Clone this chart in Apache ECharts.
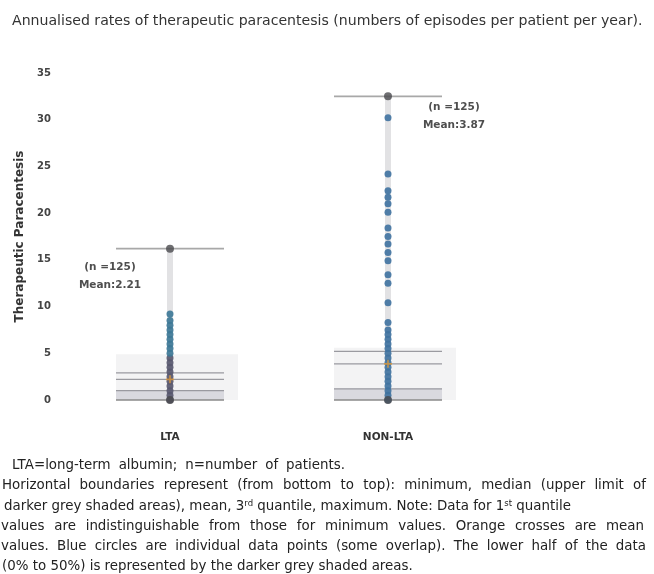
<!DOCTYPE html>
<html>
<head>
<meta charset="utf-8">
<script src="https://cdn.jsdelivr.net/npm/echarts@6/dist/echarts.min.js"></script>
<style>
  html, body { margin: 0; padding: 0; background: #fff; }
  #chart { width: 654px; height: 574px; }
</style>
</head>
<body>
<div id="chart"></div>
<script>
// groups
const groups = ["LTA", "NON-LTA"];

// summary stats per group
const minVals = [0, 0];
const medianVals = [1.0, 1.2];
const meanVals = [2.21, 3.87];
const q3Vals = [2.9, 5.2];
const maxVals = [16.2, 32.5];
const shadeTop = [4.9, 5.6];
const nLabels = ["(n =125)", "(n =125)"];
const labelAt = [13.2, 30.4];

// individual data points (some overlap)
const ltaPoints = [0, 0.5, 1, 1.5, 2, 2.5, 3, 3.5, 4, 4.5, 5, 5.5, 6, 6.5, 7, 7.5, 8, 8.5, 9.2];
const nonLtaPoints = [0, 0.5, 1, 1.5, 2, 2.5, 3, 3.5, 4, 4.5, 5, 5.5, 6, 6.5, 7, 7.5, 8.3,
  10.4, 12.5, 13.4, 14.9, 15.8, 16.7, 17.5, 18.4, 20.1, 21.0, 21.7, 22.4, 24.2, 30.2];

const titleText = "Annualised rates of therapeutic paracentesis (numbers of episodes per patient per year).";
// footnote lines; justifyTo = right edge for justified lines (0 = natural)
const footLines = [
  "LTA=long-term albumin; n=number of patients.",
  "Horizontal boundaries represent (from bottom to top): minimum, median (upper limit of",
  "darker grey shaded areas), mean, 3{sup|rd} quantile, maximum. Note: Data for 1{sup|st} quantile",
  "values are indistinguishable from those for minimum values. Orange crosses are mean",
  "values. Blue circles are individual data points (some overlap). The lower half of the data",
  "(0% to 50%) is represented by the darker grey shaded areas."
];
const footLeft = [12, 2, 4, 1, 1, 2];
const justifyTo = [345, 646, 0, 644, 646, 0];

const FONT = "'DejaVu Sans', Verdana, sans-serif";
const FOOT_SIZE = 13.4;

const chart = echarts.init(document.getElementById("chart"));

// build data for series
const pointData = [];
ltaPoints.forEach(v => pointData.push([0, v]));
nonLtaPoints.forEach(v => pointData.push([1, v]));

const statLines = [];
groups.forEach((g, i) => {
  statLines.push([i, minVals[i], 0]);
  statLines.push([i, medianVals[i], 1]);
  statLines.push([i, meanVals[i], 1]);
  statLines.push([i, q3Vals[i], 1]);
  statLines.push([i, maxVals[i], 2]);
});

const bands = [];
groups.forEach((g, i) => {
  bands.push([i, minVals[i], shadeTop[i], 0]);
  bands.push([i, minVals[i], medianVals[i], 1]);
});

const extremes = [];
groups.forEach((g, i) => {
  extremes.push([i, minVals[i]]);
  extremes.push([i, maxVals[i]]);
});

const halfW = 54;

// measure words so the justified footnote lines can be spread like the original
const measureCtx = document.createElement("canvas").getContext("2d");
measureCtx.font = FOOT_SIZE + "px " + FONT;

const supRich = { sup: { fontFamily: FONT, fontSize: 8.5, verticalAlign: "top", padding: [0, 0, 5, 0], fill: "#222" } };
const footGraphics = [];
footLines.forEach((t, k) => {
  const top = 459 + k * 20.2;
  if (!justifyTo[k]) {
    footGraphics.push({
      type: "text", left: footLeft[k], top: top,
      style: { text: t, fontFamily: FONT, fontSize: FOOT_SIZE, fill: "#222", rich: supRich }
    });
    return;
  }
  const words = t.split(" ");
  const widths = words.map(w => measureCtx.measureText(w).width);
  const total = widths.reduce((a, b) => a + b, 0);
  const gap = (justifyTo[k] - footLeft[k] - total) / (words.length - 1);
  let x = footLeft[k];
  words.forEach((w, j) => {
    footGraphics.push({
      type: "text", x: x, y: top,
      style: { text: w, fontFamily: FONT, fontSize: FOOT_SIZE, fill: "#222" }
    });
    x += widths[j] + gap;
  });
});

const option = {
  backgroundColor: "#fff",
  animation: false,
  graphic: [
    {
      type: "text",
      left: 12,
      top: 14,
      style: { text: titleText, fontFamily: FONT, fontSize: 14.1, fill: "#333" }
    }
  ].concat(footGraphics),
  grid: { left: 61, right: 157, top: 73, bottom: 174 },
  xAxis: {
    type: "category",
    data: groups,
    axisLine: { show: false },
    axisTick: { show: false },
    axisLabel: {
      margin: 32,
      fontSize: 10.5,
      fontWeight: "bold",
      color: "#333",
      fontFamily: FONT
    }
  },
  yAxis: {
    type: "value",
    min: 0,
    max: 35,
    interval: 5,
    name: "Therapeutic Paracentesis",
    nameLocation: "middle",
    nameGap: 28,
    nameTextStyle: {
      fontSize: 12,
      fontWeight: "bold",
      color: "#333",
      fontFamily: FONT
    },
    axisLine: { show: false },
    axisTick: { show: false },
    splitLine: { show: false },
    axisLabel: {
      margin: 10,
      fontSize: 10,
      fontWeight: "bold",
      color: "#444",
      fontFamily: FONT
    }
  },
  series: [
    {
      // shaded areas
      type: "custom",
      silent: true,
      z: 1,
      data: bands,
      renderItem: function (params, api) {
        const lo = api.coord([api.value(0), api.value(1)]);
        const hi = api.coord([api.value(0), api.value(2)]);
        const dark = api.value(3) === 1;
        return {
          type: "rect",
          shape: { x: lo[0] - halfW, y: hi[1], width: halfW * 2 + (dark ? 0 : 14), height: lo[1] - hi[1] },
          style: { fill: dark ? "rgba(150,150,170,0.28)" : "rgba(200,200,205,0.22)" }
        };
      }
    },
    {
      // vertical whisker
      type: "custom",
      silent: true,
      z: 2,
      data: groups.map((g, i) => [i, minVals[i], maxVals[i]]),
      renderItem: function (params, api) {
        const lo = api.coord([api.value(0), api.value(1)]);
        const hi = api.coord([api.value(0), api.value(2)]);
        return {
          type: "rect",
          shape: { x: lo[0] - 3, y: hi[1], width: 6, height: lo[1] - hi[1] },
          style: { fill: "rgba(190,190,195,0.45)" }
        };
      }
    },
    {
      // horizontal boundaries
      type: "custom",
      silent: true,
      z: 3,
      data: statLines,
      renderItem: function (params, api) {
        const p = api.coord([api.value(0), api.value(1)]);
        const kind = api.value(2);
        return {
          type: "line",
          shape: { x1: p[0] - halfW, y1: p[1], x2: p[0] + halfW, y2: p[1] },
          style: {
            stroke: kind === 2 ? "#a8a8a8" : (kind === 0 ? "#8a8a8a" : "#9a9aa0"),
            lineWidth: kind === 1 ? 1.3 : 1.6
          }
        };
      }
    },
    {
      name: "points",
      type: "scatter",
      z: 4,
      symbolSize: 7,
      data: pointData,
      itemStyle: {
        opacity: 0.9,
        // heavily overlapping LTA points in the lower half look darker in the original
        color: function (p) {
          if (p.value[0] === 0) return p.value[1] < 5 ? "#56566e" : "#3c7896";
          return "#3f72a0";
        }
      }
    },
    {
      name: "extremes",
      type: "scatter",
      z: 5,
      symbolSize: 8,
      data: extremes,
      itemStyle: { color: "#4a4a4e" }
    },
    {
      name: "mean",
      type: "scatter",
      z: 6,
      symbol: "path://M4,0 L6,0 L6,4 L10,4 L10,6 L6,6 L6,10 L4,10 L4,6 L0,6 L0,4 L4,4 Z",
      symbolSize: 8,
      data: groups.map((g, i) => [i, meanVals[i]]),
      itemStyle: { color: "#e09a3a" }
    },
    {
      // group annotations
      type: "scatter",
      z: 7,
      symbolSize: 0,
      data: [
        { value: [0, labelAt[0]], label: { offset: [-60, 0] } },
        { value: [1, labelAt[1]], label: { offset: [66, 0] } }
      ],
      label: {
        show: true,
        position: "inside",
        fontSize: 10.5,
        fontWeight: "bold",
        lineHeight: 18,
        color: "#222",
        fontFamily: FONT,
        formatter: function (p) {
          return nLabels[p.dataIndex] + "\nMean:" + meanVals[p.dataIndex].toFixed(2);
        }
      }
    }
  ]
};

chart.setOption(option);
</script>
</body>
</html>
